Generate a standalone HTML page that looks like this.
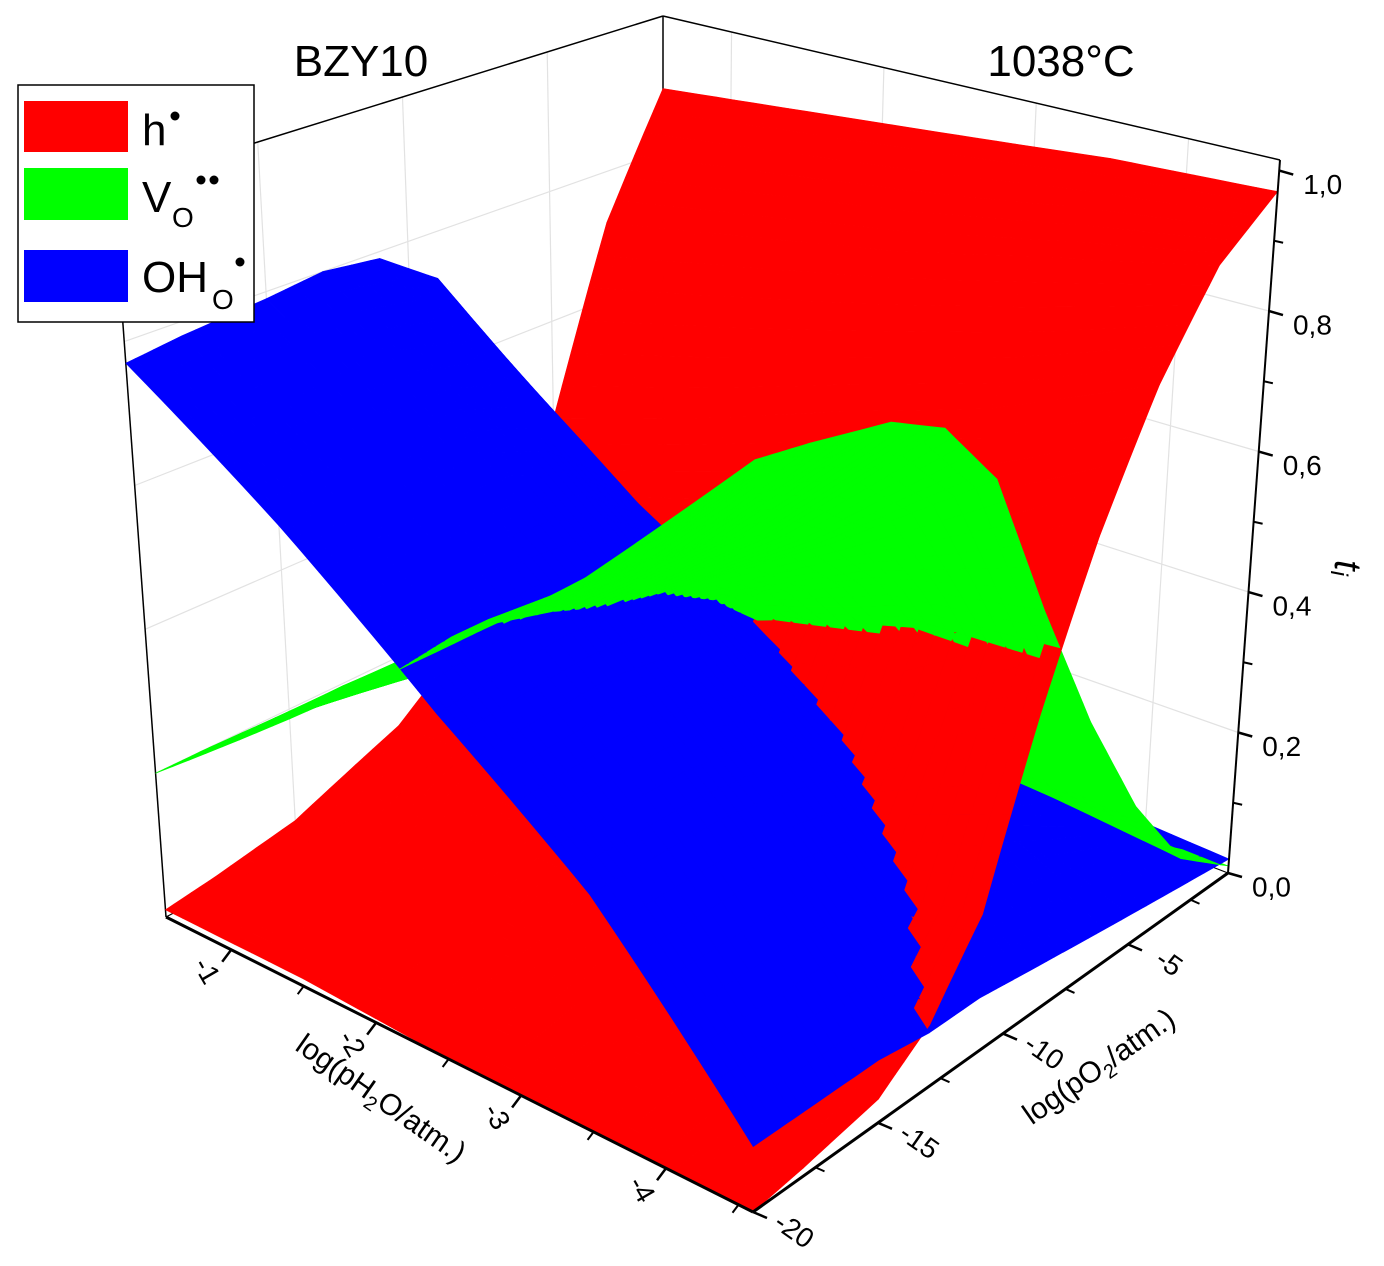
<!DOCTYPE html>
<html><head><meta charset="utf-8"><style>
html,body{margin:0;padding:0;background:#fff;}
svg{display:block;font-family:"Liberation Sans",Arial,sans-serif;}
</style></head><body>
<svg id="chart" width="1384" height="1266" viewBox="0 0 1384 1266" xmlns="http://www.w3.org/2000/svg">
<g id="walls"></g>
<g id="surfaces"></g>
<g id="axes"></g>
<text x="361" y="76" font-size="44" text-anchor="middle">BZY10</text>
<text x="1061" y="76" font-size="44" text-anchor="middle">1038°C</text>
<g>
<rect x="18" y="85" width="236" height="237" fill="#fff" stroke="#000" stroke-width="1.5"/>
<g><rect x="24" y="101" width="104" height="51" fill="#ff0000"/><text x="142" y="145" font-size="44">h</text><circle cx="175" cy="116" r="4.5" fill="#000"/></g>
<g><rect x="24" y="168" width="104" height="52" fill="#00ff00"/><text x="142" y="212" font-size="44">V</text><text x="172" y="227" font-size="28">O</text><circle cx="201" cy="180" r="4.5" fill="#000"/><circle cx="214" cy="180" r="4.5" fill="#000"/></g>
<g><rect x="24" y="250" width="104" height="52" fill="#0000ff"/><text x="142" y="292" font-size="44">OH</text><text x="212" y="309" font-size="28">O</text><circle cx="240" cy="262" r="4.5" fill="#000"/></g>
</g>
</svg>
<script>
// ---- data ----
const pH2O = [-0.55, -1.5, -2.5, -3.5, -4.6];
const pO2 = [-20, -18, -15, -13, -11, -9, -7, -5, -3, -1];
const tOH = [
 [.77,.78,.79,.80,.79,.73,.59,.40,.20,.07],
 [.62,.63,.64,.64,.61,.54,.43,.30,.15,.05],
 [.45,.46,.47,.46,.43,.38,.30,.20,.10,.04],
 [.30,.30,.30,.29,.27,.23,.18,.12,.06,.03],
 [.08,.08,.08,.07,.07,.06,.05,.04,.03,.02]];
const tH = [
 [.01,.02,.04,.07,.10,.16,.26,.45,.72,.90],
 [.01,.02,.04,.07,.11,.19,.32,.52,.76,.92],
 [.00,.01,.03,.07,.12,.22,.38,.60,.80,.94],
 [.00,.01,.03,.07,.14,.27,.45,.67,.85,.96],
 [.00,.01,.03,.08,.18,.40,.60,.77,.90,.97]];
const tV = [
 [.20,.20,.19,.18,.18,.18,.19,.15,.08,.03],
 [.36,.37,.34,.32,.31,.29,.26,.18,.09,.03],
 [.53,.54,.51,.48,.46,.41,.33,.20,.10,.02],
 [.70,.69,.67,.64,.59,.50,.37,.21,.09,.01],
 [.92,.91,.89,.85,.75,.54,.35,.19,.07,.01]];
const xTicks = [-1, -2, -3, -4];
const yTicks = [-20, -15, -10, -5];
const zTicks = [0, 0.2, 0.4, 0.6, 0.8, 1.0];
const zTickLabels = ["0,0","0,2","0,4","0,6","0,8","1,0"];

// ---- projection ----
const NS = "http://www.w3.org/2000/svg";
const L=[166,917], F=[753,1212], R=[1228,873], B=[663,656];
const Lt=[113,187], Ft=[755,382], Rt=[1280,160], Bt=[663,16];
const ZMAX = 1.015;
function uOf(p){ return (-0.55 - p) / 4.05; }
function vOf(p){ return (p + 20) / 19; }
function bil(a,b,c,d,u,v){
  return [a[0]*(1-u)*(1-v)+b[0]*u*(1-v)+c[0]*u*v+d[0]*(1-u)*v,
          a[1]*(1-u)*(1-v)+b[1]*u*(1-v)+c[1]*u*v+d[1]*(1-u)*v];
}
function proj(u,v,z){
  const b = bil(L,F,R,B,u,v), t = bil(Lt,Ft,Rt,Bt,u,v), s = z/ZMAX;
  return [b[0]+(t[0]-b[0])*s, b[1]+(t[1]-b[1])*s];
}
function pts(a){ return a.map(p=>p[0].toFixed(1)+","+p[1].toFixed(1)).join(" "); }
function mk(tag, attrs, parent){
  const e = document.createElementNS(NS, tag);
  for (const k in attrs) e.setAttribute(k, attrs[k]);
  parent.appendChild(e); return e;
}

// ---- back walls grid ----
const walls = document.getElementById('walls');
const gridStyle = {stroke:"#e2e2e2","stroke-width":1.2,fill:"none"};
for (const z of [0.2,0.4,0.6,0.8]) {
  const g1 = mk('polyline', Object.assign({points: pts([proj(1,1,z),proj(0,1,z),proj(0,0,z)])}, gridStyle), walls);
  
  
}
for (const t of xTicks) {
  const u = uOf(t);
  const g = mk('line', Object.assign({x1:proj(u,1,0)[0],y1:proj(u,1,0)[1],x2:proj(u,1,ZMAX)[0],y2:proj(u,1,ZMAX)[1]}, gridStyle), walls);
  
  
}
for (const t of yTicks) {
  const v = vOf(t);
  const g = mk('line', Object.assign({x1:proj(0,v,0)[0],y1:proj(0,v,0)[1],x2:proj(0,v,ZMAX)[0],y2:proj(0,v,ZMAX)[1]}, gridStyle), walls);
  
  
}
const bx = document.getElementById('axes');
function edge(a,b,w,name){
  const e = mk('line',{x1:a[0],y1:a[1],x2:b[0],y2:b[1],stroke:"#000","stroke-width":w},walls);
  
  
}
edge(Lt,Bt,1.5,'box-top-left-edge');
edge(Bt,Rt,1.5,'box-top-right-edge');
edge(L,Lt,1.5,'box-left-pole');
edge(B,Bt,1.5,'box-back-pole');
edge(B,R,1.2,'box-back-right-edge');
edge(L,B,1.2,'box-back-left-edge');

// ---- surfaces (cells subdivided for rendering/depth sorting only) ----
const surfDefs = [
  {name:'surface-h', data:tH, fill:'#ff0000'},
  {name:'surface-vo', data:tV, fill:'#00ff00'},
  {name:'surface-oh', data:tOH, fill:'#0000ff'}];
const SU = 8, SV = 6;
const tris = [];
for (const s of surfDefs) {
  for (let i=0;i<pH2O.length-1;i++) for (let j=0;j<pO2.length-1;j++) {
    const u0=uOf(pH2O[i]), u1=uOf(pH2O[i+1]), v0=vOf(pO2[j]), v1=vOf(pO2[j+1]);
    const z00=s.data[i][j], z10=s.data[i+1][j], z11=s.data[i+1][j+1], z01=s.data[i][j+1];
    const P = (a,b)=>({u:u0+(u1-u0)*a, v:v0+(v1-v0)*b,
      z: z00*(1-a)*(1-b)+z10*a*(1-b)+z11*a*b+z01*(1-a)*b});
    for (let a=0;a<SU;a++) for (let b=0;b<SV;b++) {
      const c=[P(a/SU,b/SV),P((a+1)/SU,b/SV),P((a+1)/SU,(b+1)/SV),P(a/SU,(b+1)/SV)];
      let d=0; for (const p of c) d += (p.u - p.v)*0.6 + p.z*0.45;
      tris.push({s, tri:c, d});
    }
  }
}
tris.sort((a,b)=>a.d-b.d);
const sg = document.getElementById('surfaces');
for (const t of tris) {
  const poly = mk('polygon',{points:pts(t.tri.map(p=>proj(p.u,p.v,p.z))),fill:t.s.fill,stroke:t.s.fill,"stroke-width":0.6,"stroke-linejoin":"round"},sg);
  
  
}

// ---- axes ----
function line(a,b,w,name){
  const e = mk('line',{x1:a[0],y1:a[1],x2:b[0],y2:b[1],stroke:"#000","stroke-width":w},bx);
  
  
}
function text(x,y,str,size,rot,name,anchor){
  const e = mk('text',{x:x,y:y,"font-size":size,"text-anchor":anchor||"middle","dominant-baseline":"middle",transform:"rotate("+rot+" "+x+" "+y+")"},bx);
  e.textContent = str;
  
  
  return e;
}
line(L,F,3,'x-axis-line');
line(F,R,3,'y-axis-line');
line(R,Rt,2,'z-axis-line');
for (let k=0;k<xTicks.length;k++){
  const u = uOf(xTicks[k]); const p = proj(u,0,0);
  line(p,[p[0]-9,p[1]+12],2.5,'x-tick');
  const m = proj(uOf(xTicks[k]-0.5),0,0);
  line(m,[m[0]-6,m[1]+8],2,'x-minor-tick');
  text(p[0]-26,p[1]+22,String(xTicks[k]),28,60,'x-tick-label');
}
for (let k=0;k<yTicks.length;k++){
  const v = vOf(yTicks[k]); const p = proj(1,v,0);
  line(p,[p[0]+14,p[1]+6],2.5,'y-tick');
  if (yTicks[k] < -1) { const m = proj(1,vOf(yTicks[k]+2.5),0); line(m,[m[0]+9,m[1]+4],2,'y-minor-tick'); }
  text(p[0]+40,p[1]+20,String(yTicks[k]),28,35,'y-tick-label');
}
for (let k=0;k<zTicks.length;k++){
  const p = proj(1,1,zTicks[k]);
  line(p,[p[0]+14,p[1]+4],2.5,'z-tick');
  if (k<zTicks.length-1){ const m = proj(1,1,zTicks[k]+0.1); line(m,[m[0]+9,m[1]+2],2,'z-minor-tick'); }
  text(p[0]+24,p[1]+16,zTickLabels[k],28,0,'z-tick-label','start');
}
const xt = text(380,1100,"",30,35,'x-axis-title');
xt.innerHTML = 'log(pH<tspan font-size="20" dy="10">2</tspan><tspan dy="-10">O/atm.)</tspan>';
const yt = text(1100,1068,"",30,-35,'y-axis-title');
yt.innerHTML = 'log(pO<tspan font-size="20" dy="10">2</tspan><tspan dy="-10">/atm.)</tspan>';
const zt = text(1345,568,"",38,90,'z-axis-title');
zt.innerHTML = '<tspan font-style="italic">t</tspan><tspan font-size="24" dy="8" font-style="italic">i</tspan>';
</script>
</body></html>
